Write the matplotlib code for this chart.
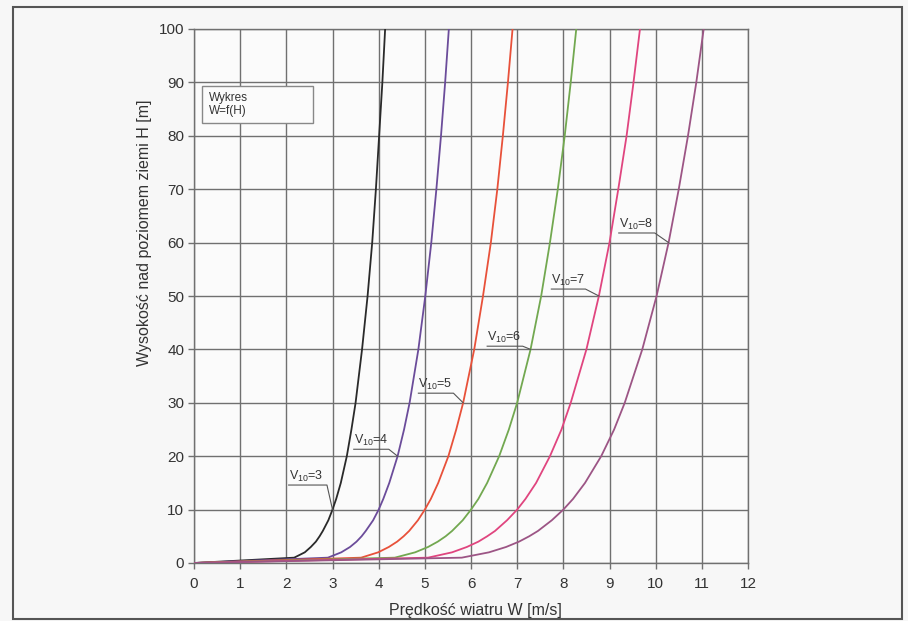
import matplotlib
matplotlib.use("Agg")
import matplotlib.pyplot as plt
from matplotlib.patches import Rectangle

plt.rcParams['font.family'] = ['Liberation Sans', 'DejaVu Sans']
plt.rcParams['mathtext.fontset'] = 'custom'
plt.rcParams['mathtext.rm'] = 'Liberation Sans'
plt.rcParams['mathtext.it'] = 'Liberation Sans'

# ---- data ----
heights = [0, 1, 2, 3, 4, 5, 6, 8, 10, 12, 15, 20, 25, 30, 40, 50, 60, 70, 80, 90, 100]
w_v3 = [0, 2.17, 2.40, 2.53, 2.64, 2.72, 2.79, 2.91, 3.00, 3.08, 3.18, 3.31, 3.41, 3.50, 3.64, 3.76, 3.86, 3.94, 4.01, 4.08, 4.14]
w_v4 = [0, 2.90, 3.19, 3.38, 3.52, 3.63, 3.72, 3.88, 4.00, 4.10, 4.23, 4.41, 4.55, 4.67, 4.86, 5.01, 5.14, 5.25, 5.35, 5.44, 5.52]
w_v5 = [0, 3.62, 3.99, 4.22, 4.40, 4.54, 4.66, 4.85, 5.00, 5.13, 5.29, 5.51, 5.68, 5.83, 6.07, 6.26, 6.43, 6.57, 6.69, 6.80, 6.90]
w_v6 = [0, 4.35, 4.79, 5.07, 5.28, 5.45, 5.59, 5.82, 6.00, 6.16, 6.35, 6.61, 6.82, 7.00, 7.29, 7.52, 7.71, 7.88, 8.03, 8.16, 8.28]
w_v7 = [0, 5.07, 5.59, 5.91, 6.16, 6.35, 6.52, 6.78, 7.00, 7.18, 7.41, 7.71, 7.96, 8.16, 8.50, 8.77, 9.00, 9.19, 9.37, 9.52, 9.66]
w_v8 = [0, 5.80, 6.39, 6.76, 7.04, 7.26, 7.45, 7.75, 8.00, 8.21, 8.47, 8.82, 9.10, 9.33, 9.71, 10.02, 10.28, 10.50, 10.70, 10.88, 11.04]
v10_values = [3, 4, 5, 6, 7, 8]
x_ticks = list(range(0, 13))
y_ticks = list(range(0, 101, 10))

series = [w_v3, w_v4, w_v5, w_v6, w_v7, w_v8]
colors = ['#2a2a2a', '#6b4c9a', '#e8513a', '#72a850', '#e0457f', '#9c5585']

# label placement: (underline x start, underline x end, underline y, target height on curve)
label_pos = [
    (2.05, 2.88, 14.6, 10),
    (3.46, 4.22, 21.3, 20),
    (4.86, 5.62, 31.8, 30),
    (6.35, 7.12, 40.6, 40),
    (7.74, 8.48, 51.3, 50),
    (9.20, 9.98, 61.8, 60),
]

W, H = 908, 621
fig = plt.figure(figsize=(W / 100, H / 100), dpi=100, facecolor='#f7f7f7')
ax = fig.add_axes([194 / W, 1 - 563 / H, (748 - 194) / W, (563 - 29) / H])
ax.set_facecolor('#fbfbfb')

for ws, c in zip(series, colors):
    ax.plot(ws, heights, color=c, lw=1.3, zorder=3)

ax.set_xlim(0, 12)
ax.set_ylim(0, 100)
ax.set_xticks(x_ticks)
ax.set_yticks(y_ticks)
ax.grid(True, color='#707070', lw=1.0, zorder=1)
for s in ax.spines.values():
    s.set_color('#707070')
    s.set_linewidth(1.0)
ax.tick_params(axis='both', labelsize=11, colors='#707070', labelcolor='#333333', length=4, width=1.0)
ax.tick_params(axis='y', pad=3)
ax.tick_params(axis='x', pad=6)

# curve labels with underline and leader lines
for v, ws, (x0, x1, yu, ht), c in zip(v10_values, series, label_pos, colors):
    idx = heights.index(ht)
    xt = ws[idx]
    ax.text(x0, yu + 0.15, r'V$_{10}$=' + str(v), fontsize=9, color='#333333',
            ha='left', va='bottom', zorder=4)
    ax.plot([x0, x1, xt], [yu, yu, ht], color='#555555', lw=0.8, zorder=4)

# "Wykres" box
ax.add_patch(Rectangle((0.17, 82.4), 2.4, 6.9, facecolor='#fbfbfb', edgecolor='#888888',
                       lw=1.0, zorder=5))
ax.text(0.33, 85.85, 'Wykres\nW=f(H)', fontsize=8.5, color='#333333', ha='left', va='center',
        linespacing=1.05, zorder=6)

# axis titles
fig.text(144 / W, 1 - 233 / H, 'Wysokość nad poziomem ziemi H [m]', rotation=90,
         ha='center', va='center', fontsize=11.5, color='#333333')
fig.text(475 / W, 1 - 610 / H, 'Prędkość wiatru W [m/s]', ha='center', va='center',
         fontsize=11.5, color='#333333')

# outer frame
fig.add_artist(Rectangle((13 / W, 1 - 619 / H), (902 - 13) / W, (619 - 7) / H,
                         transform=fig.transFigure, fill=False, edgecolor='#555555', lw=1.5))

fig.savefig('out.png', dpi=100, facecolor=fig.get_facecolor())
